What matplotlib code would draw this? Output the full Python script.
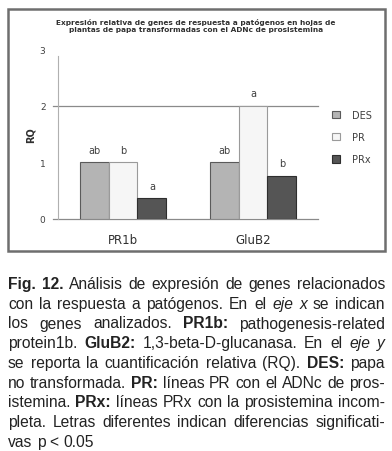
import matplotlib
matplotlib.use('Agg')
import matplotlib.pyplot as plt
from matplotlib.patches import Rectangle
import numpy as np

# Datos
genes = ['PR1b', 'GluB2']
series = ['DES', 'PR', 'PRx']
des = [1.0, 1.0]
pr = [1.0, 2.0]
prx = [0.37, 0.76]
letras_des = ['ab', 'ab']
letras_pr = ['b', 'a']
letras_prx = ['a', 'b']
yticks = [0, 1, 2, 3]

titulo = ['Expresión relativa de genes de respuesta a patógenos en hojas de',
          'plantas de papa transformadas con el ADNc de prosistemina']

leyenda = [
    '**Fig.** **12.** Análisis de expresión de genes relacionados',
    'con la respuesta a patógenos. En el _eje_ _x_ se indican',
    'los genes analizados. **PR1b:** pathogenesis-related',
    'protein1b. **GluB2:** 1,3-beta-D-glucanasa. En el _eje_ _y_',
    'se reporta la cuantificación relativa (RQ). **DES:** papa',
    'no transformada. **PR:** líneas PR con el ADNc de pros-',
    'istemina. **PRx:** líneas PRx con la prosistemina incom-',
    'pleta. Letras diferentes indican diferencias significati-',
    'vas p < 0.05',
]

W, H = 392, 452
fig = plt.figure(figsize=(W / 100, H / 100), dpi=100)

def fx(px):
    return px / W

def fy(py):
    return 1 - py / H

# Marco del grafico
fig.add_artist(Rectangle((fx(8), fy(252)), 377 / W, 242 / H, transform=fig.transFigure,
                         fill=False, edgecolor='#6e6e6e', lw=1.8))

ax = fig.add_axes([fx(58), fy(220), 260 / W, 170 / H])
x = np.arange(len(genes))
w = 0.223
colores = ['#b4b4b4', '#f6f6f6', '#555555']
bordes = ['#5a5a5a', '#9a9a9a', '#2e2e2e']
valores = [des, pr, prx]
letras = [letras_des, letras_pr, letras_prx]
for i, (vals, c, b) in enumerate(zip(valores, colores, bordes)):
    pos = x + (i - 1) * w
    ax.bar(pos, vals, w, color=c, edgecolor=b, linewidth=0.8, label=series[i], zorder=3)
    for p, v, l in zip(pos, vals, letras[i]):
        ax.text(p, v + 0.22, l, ha='center', va='center', fontsize=7, color='#404040')

ax.set_xlim(-0.5, 1.5)
ax.set_ylim(0, 3)
ax.set_yticks(yticks)
ax.set_yticklabels([str(t) for t in yticks], fontsize=6.5, color='#404040')
ax.set_xticks(x)
ax.set_xticklabels(genes, fontsize=8.5, color='#303030')
ax.tick_params(axis='y', length=0, pad=9)
ax.tick_params(axis='x', length=0, pad=10)
for s in ['top', 'right', 'bottom']:
    ax.spines[s].set_visible(False)
ax.spines['left'].set_color('#b0b0b0')
ax.spines['left'].set_bounds(0, 2.88)
for g in [0, 2]:
    ax.axhline(g, xmin=-0.02, xmax=1, color='#8a8a8a', lw=0.9, clip_on=False, zorder=2)

fig.text(fx(31), fy(135), 'RQ', rotation=90, ha='center', va='center', fontsize=7,
         weight='bold', color='#303030')

for i, t in enumerate(titulo):
    fig.text(fx(196), fy(23 + 7 * i), t, ha='center', va='center', fontsize=5.3,
             weight='bold', color='#303030')

ax.legend(loc='upper left', bbox_to_anchor=(fx(332), fy(111)), bbox_transform=fig.transFigure,
          frameon=False, fontsize=7, handlelength=0.8, handleheight=0.8,
          handletextpad=1.3, labelspacing=1.25, borderpad=0, borderaxespad=0,
          labelcolor='#404040')

# Texto de la leyenda justificado
fig.canvas.draw()
r = fig.canvas.get_renderer()
x0, x1 = 8, 385
base0, paso = 289, 19.75

def partir(linea):
    out = []
    for pal in linea.split(' '):
        peso, estilo = 'normal', 'normal'
        if pal.startswith('**'):
            pal, peso = pal.strip('*'), 'bold'
        elif pal.startswith('_'):
            pal, estilo = pal.strip('_'), 'italic'
        out.append((pal, peso, estilo))
    return out

def ancho(pal, peso, estilo, fs):
    t = fig.text(0, 0, pal, fontsize=fs, family='Liberation Sans', weight=peso, style=estilo)
    a = t.get_window_extent(renderer=r).width
    t.remove()
    return a

# tamaño de letra para que la linea mas larga quepa con espacios normales
fs0 = 10
naturales = []
for linea in leyenda[:-1]:
    ps = partir(linea)
    naturales.append(sum(ancho(*p, fs0) for p in ps) + (len(ps) - 1) * 0.278 * fs0 * 100 / 72)
FS = fs0 * (x1 - x0) / max(naturales) * 0.995

for n, linea in enumerate(leyenda):
    palabras = []
    for pal, peso, estilo in partir(linea):
        t = fig.text(0, fy(base0 + n * paso), pal, fontsize=FS, family='Liberation Sans',
                     weight=peso, style=estilo, va='baseline', ha='left', color='#222222')
        palabras.append((t, t.get_window_extent(renderer=r).width))
    total = sum(a for _, a in palabras)
    if n < len(leyenda) - 1 and len(palabras) > 1:
        hueco = (x1 - x0 - total) / (len(palabras) - 1)
    else:
        hueco = 0.278 * FS * 100 / 72
    px = x0
    for t, a in palabras:
        t.set_x(fx(px))
        px += a + hueco

fig.savefig('out.png', dpi=100)
